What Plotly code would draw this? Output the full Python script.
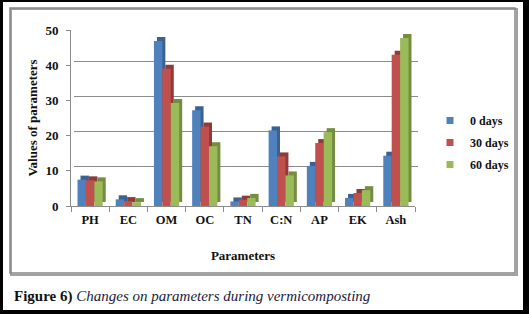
import plotly.graph_objects as go

categories = ["PH", "EC", "OM", "OC", "TN", "C:N", "AP", "EK", "Ash"]
series_names = ["0 days", "30 days", "60 days"]
day0 = [7.5, 1.9, 46.9, 27.2, 1.3, 21.5, 11.4, 2.3, 14.3]
day30 = [7.3, 1.4, 39.0, 22.6, 1.8, 14.1, 17.9, 3.7, 43.0]
day60 = [7.0, 1.1, 29.3, 17.0, 2.3, 8.7, 21.0, 4.5, 47.8]
y_ticks = [0, 10, 20, 30, 40, 50]

series_values = [day0, day30, day60]
front_colors = ["#4F81BD", "#C0504D", "#9BBB59"]
side_colors = ["#3A6192", "#913B39", "#748D42"]

W, H = 529, 314
L, R, T, B = 71, 418, 26, 206  # overall plot region (pixels)
DX, DY = 3, 4
PW, PH_ = R - L, B - T


def px(x):
    return (x - L) / PW


def py(y):
    return (B - y) / PH_


FONT = "Liberation Serif, Times New Roman, serif"

fig = go.Figure()

# back (depth) faces
for name, vals, col in zip(series_names, series_values, side_colors):
    fig.add_trace(go.Bar(x=categories, y=vals, name=name, marker=dict(color=col, line=dict(width=0)),
                         xaxis="x", yaxis="y", showlegend=False, hoverinfo="skip"))
# front faces
for name, vals, col in zip(series_names, series_values, front_colors):
    fig.add_trace(go.Bar(x=categories, y=vals, name=name, marker=dict(color=col, line=dict(width=0)),
                         xaxis="x2", yaxis="y2", showlegend=False))
# legend entries
for name, col in zip(series_names, front_colors):
    fig.add_trace(go.Scatter(x=[None], y=[None], mode="markers", name=name, legendgroup=name,
                             marker=dict(symbol="square", size=7, color=col),
                             xaxis="x2", yaxis="y2"))

grid_col = "#8c8c8c"

fig.update_layout(
    width=W, height=H,
    margin=dict(l=L, r=W - R, t=T, b=H - B, pad=0, autoexpand=False),
    paper_bgcolor="black",
    plot_bgcolor="rgba(0,0,0,0)",
    barmode="group", bargap=0.34, bargroupgap=0,
    font=dict(family=FONT, size=12, color="#111111"),
    xaxis=dict(domain=[DX / PW, 1], range=[-0.5, 8.5], showticklabels=False, ticks="",
               showgrid=False, zeroline=False, showline=False, type="category", automargin=False),
    yaxis=dict(domain=[DY / PH_, 1], range=[0, 50.05], showticklabels=False, ticks="",
               showgrid=True, gridcolor=grid_col, gridwidth=1, tickvals=y_ticks,
               zeroline=False, showline=False, automargin=False),
    xaxis2=dict(domain=[0, (PW - DX) / PW], range=[-0.5, 8.5], anchor="y2", type="category",
                automargin=False,
                showgrid=False, zeroline=False, showline=True, linecolor=grid_col, linewidth=1,
                ticks="outside", tickson="boundaries", ticklen=5, tickcolor=grid_col,
                tickfont=dict(family=FONT, size=12.5, weight="bold", color="#111111"),
                ticklabelstandoff=2,
                title=dict(text="Parameters", standoff=24,
                           font=dict(family=FONT, size=13, weight="bold", color="#111111"))),
    yaxis2=dict(domain=[0, (PH_ - DY) / PH_], range=[0, 50.05], anchor="x2", automargin=False,
                tickvals=y_ticks, showgrid=False, zeroline=False, showline=True,
                linecolor=grid_col, linewidth=1, ticks="outside", ticklen=4, tickcolor=grid_col,
                tickfont=dict(family=FONT, size=13, weight="bold", color="#111111"),
                ticklabelstandoff=5,
                title=dict(text="Values of parameters", standoff=4,
                           font=dict(family=FONT, size=13, weight="bold", color="#111111"))),
    legend=dict(x=px(430), y=py(106), xanchor="left", yanchor="top", bgcolor="rgba(0,0,0,0)",
                font=dict(family=FONT, size=12, weight="bold", color="#111111"),
                itemwidth=30, tracegroupgap=3),
    shapes=[
        dict(type="rect", xref="paper", yref="paper", layer="below",
             x0=px(3), x1=px(523), y0=py(310), y1=py(2), fillcolor="white", line=dict(width=0)),
        dict(type="rect", xref="paper", yref="paper", layer="below",
             x0=px(11), x1=px(517), y0=py(275), y1=py(9), fillcolor="rgba(0,0,0,0)",
             line=dict(color="#a0a0a0", width=2)),
        dict(type="rect", xref="paper", yref="paper", layer="below",
             x0=px(10), x1=px(515), y0=py(273), y1=py(8), fillcolor="rgba(0,0,0,0)",
             line=dict(color="#878787", width=1.5)),
    ],
    annotations=[
        dict(xref="paper", yref="paper", x=px(12), y=py(296), xanchor="left", yanchor="middle",
             showarrow=False,
             text="<b>Figure 6)</b> <i><span style='color:#1a1a40'>Changes on parameters during vermicomposting</span></i>",
             font=dict(family=FONT, size=15, color="#111111")),
    ],
)

fig.write_html("out.html", config={"displayModeBar": False},
               post_script="document.body.style.margin='0';")
